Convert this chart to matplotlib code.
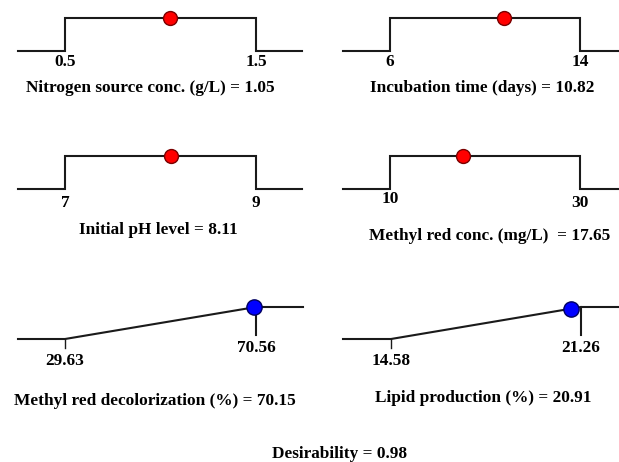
import matplotlib
matplotlib.use("Agg")
import matplotlib.pyplot as plt
import numpy as np

plt.rcParams['font.family'] = ['Liberation Serif', 'DejaVu Serif']
plt.rcParams['font.weight'] = 'bold'

# factors (ramps with flat top)
factor_names = ["Nitrogen source conc. (g/L)", "Incubation time (days)",
                "Initial pH level", "Methyl red conc. (mg/L) "]
factor_low = [0.5, 6, 7, 10]
factor_high = [1.5, 14, 9, 30]
factor_opt = [1.05, 10.82, 8.11, 17.65]
factor_low_lbl = ["0.5", "6", "7", "10"]
factor_high_lbl = ["1.5", "14", "9", "30"]
factor_opt_lbl = ["1.05", "10.82", "8.11", "17.65"]

# responses (maximize ramps)
response_names = ["Methyl red decolorization (%)", "Lipid production (%)"]
response_low = [29.63, 14.58]
response_high = [70.56, 21.26]
response_opt = [70.15, 20.91]
response_low_lbl = ["29.63", "14.58"]
response_high_lbl = ["70.56", "21.26"]
response_opt_lbl = ["70.15", "20.91"]

desirability = 0.98

W, H = 619, 462
fig = plt.figure(figsize=(W / 100, H / 100), dpi=100)

LINE = '#1a1a1a'
FS = 12.4


def make_ax(x0, x1, top, base, lo, hi, lo_px, hi_px):
    ax = fig.add_axes([x0 / W, 1 - base / H, (x1 - x0) / W, (base - top) / H])
    scale = (hi_px - lo_px) / (hi - lo)
    ax.set_xlim(lo - (lo_px - x0) / scale, hi + (x1 - hi_px) / scale)
    ax.set_ylim(0, 1)
    ax.axis('off')
    return ax


def py(px, top, base):
    # pixel row -> data y in a panel
    return (base - px) / (base - top)


# panel layout: (x0, x1, top, base, lo_px, hi_px, lbl_y_lo, lbl_y_hi, title_x, title_y)
factor_layout = [
    (18, 302, 18, 51, 65, 256, 62, 62, 150, 88),
    (343, 619, 18, 51, 390, 580, 62, 62, 482, 88),
    (18, 302, 156, 189, 65, 256, 203, 203, 158, 230),
    (343, 619, 156, 189, 390, 580, 199, 203, 490, 236),
]
for i in range(4):
    x0, x1, top, base, lo_px, hi_px, ly0, ly1, tx, ty = factor_layout[i]
    lo, hi, opt = factor_low[i], factor_high[i], factor_opt[i]
    ax = make_ax(x0, x1, top, base, lo, hi, lo_px, hi_px)
    xmin, xmax = ax.get_xlim()
    ax.plot([xmin, lo, lo, hi, hi, xmax], [0, 0, 1, 1, 0, 0],
            color=LINE, lw=1.5, clip_on=False, solid_joinstyle='miter')
    ax.plot([opt], [1], 'o', ms=10, mfc='#ff0000', mec='#7a0000', mew=1.0,
            clip_on=False, zorder=5)
    ax.text(lo, py(ly0, top, base), factor_low_lbl[i], ha='center', va='center',
            fontsize=FS, fontweight='bold')
    ax.text(hi, py(ly1, top, base), factor_high_lbl[i], ha='center', va='center',
            fontsize=FS, fontweight='bold')
    fig.text(tx / W, 1 - ty / H, f"{factor_names[i]} = {factor_opt_lbl[i]}",
             ha='center', va='center', fontsize=FS, fontweight='bold')

response_layout = [
    (18, 303, 307, 339, 65, 256, 361, 348, 155, 401),
    (343, 619, 307, 339, 391, 581, 361, 348, 483, 398),
]
for i in range(2):
    x0, x1, top, base, lo_px, hi_px, ly0, ly1, tx, ty = response_layout[i]
    lo, hi, opt = response_low[i], response_high[i], response_opt[i]
    ax = make_ax(x0, x1, top, base, lo, hi, lo_px, hi_px)
    xmin, xmax = ax.get_xlim()
    ax.plot([xmin, lo, hi, xmax], [0, 0, 1, 1], color=LINE, lw=1.5, clip_on=False)
    # tick marks at limits
    ax.plot([lo, lo], [0, py(348, top, base)], color=LINE, lw=1.0, clip_on=False)
    ax.plot([hi, hi], [1, py(335, top, base)], color=LINE, lw=1.5, clip_on=False)
    d = np.clip((opt - lo) / (hi - lo), 0, 1)
    ax.plot([opt], [d], 'o', ms=11, mfc='#0000ff', mec='#000060', mew=1.0,
            clip_on=False, zorder=5)
    ax.text(lo, py(ly0, top, base), response_low_lbl[i], ha='center', va='center',
            fontsize=FS, fontweight='bold')
    ax.text(hi, py(ly1, top, base), response_high_lbl[i], ha='center', va='center',
            fontsize=FS, fontweight='bold')
    fig.text(tx / W, 1 - ty / H, f"{response_names[i]} = {response_opt_lbl[i]}",
             ha='center', va='center', fontsize=FS, fontweight='bold')

fig.text(340 / W, 1 - 454 / H, f"Desirability = {desirability:.2f}",
         ha='center', va='center', fontsize=FS, fontweight='bold')

fig.savefig("out.png", dpi=100, facecolor='white')
